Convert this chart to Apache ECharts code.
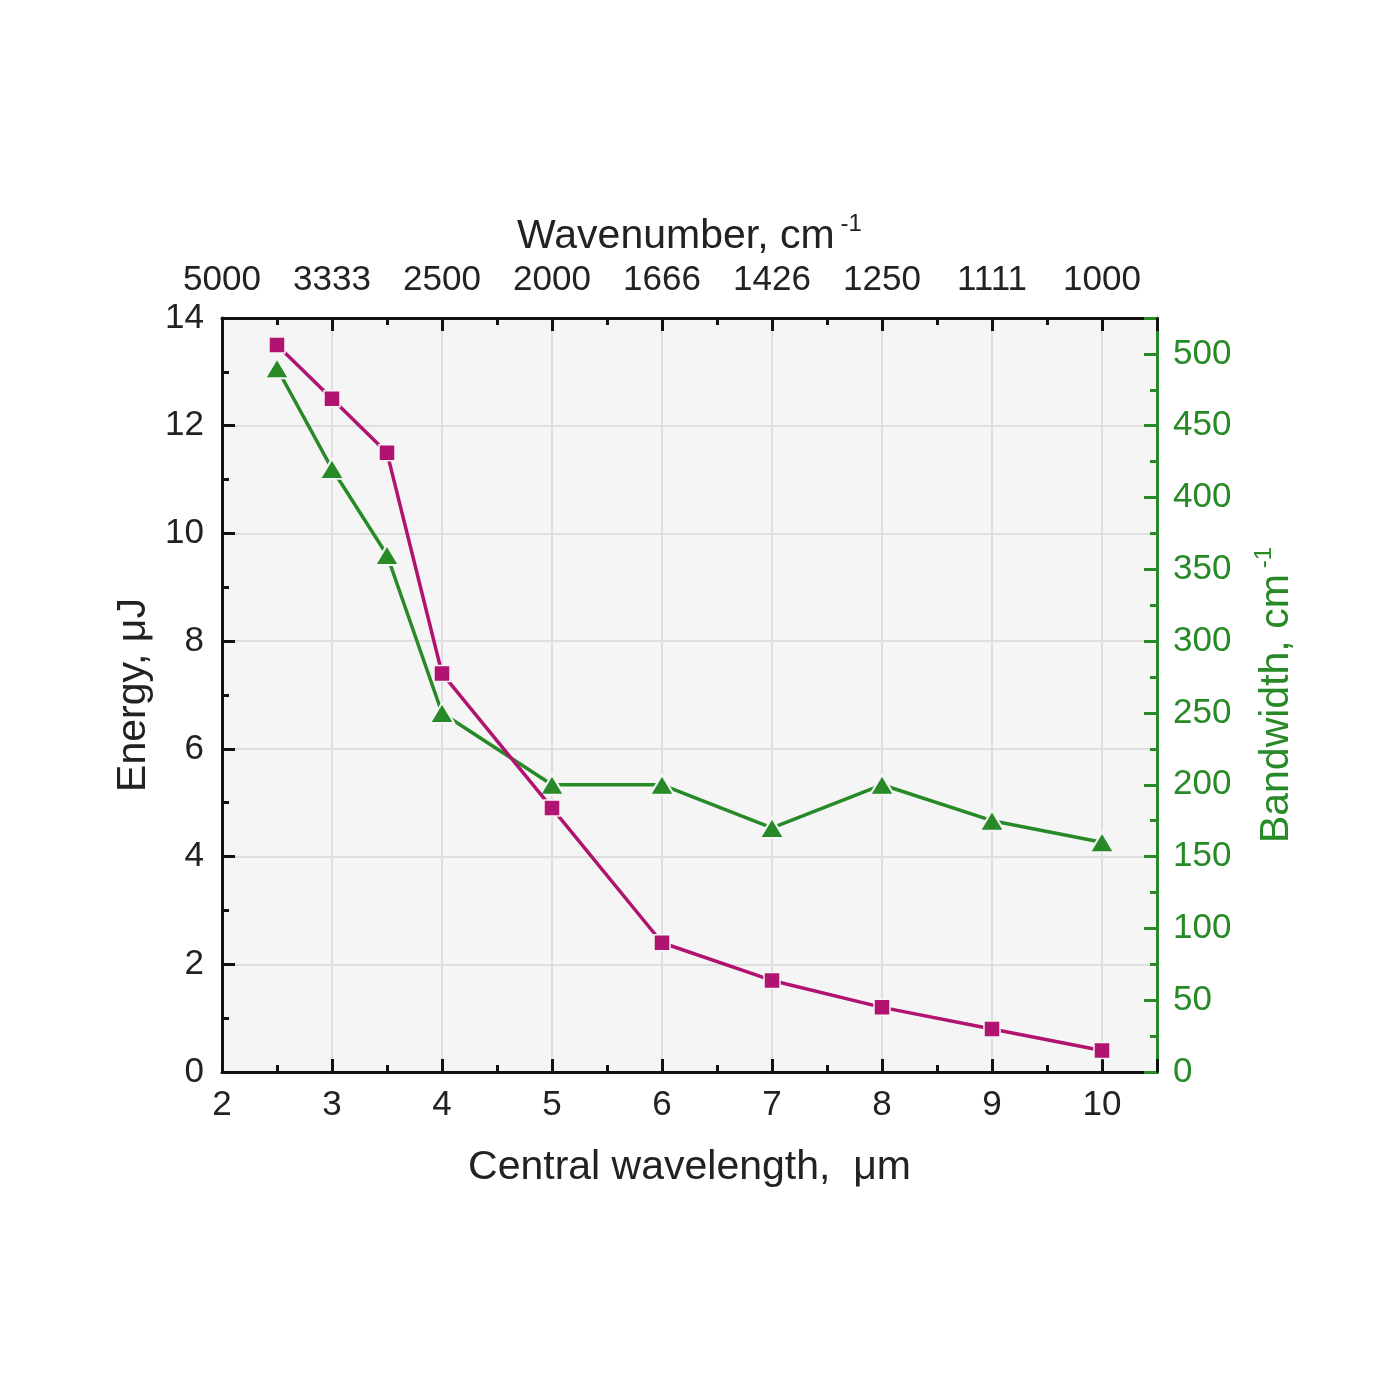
<!DOCTYPE html>
<html><head><meta charset="utf-8">
<script src="https://cdn.jsdelivr.net/npm/echarts@6/dist/echarts.min.js"></script>
<style>html,body{margin:0;padding:0;background:#fff}#c{width:1400px;height:1400px}</style>
</head><body><div id="c"></div>
<script>
const wavelength = [2.5, 3, 3.5, 4, 5, 6, 7, 8, 9, 10];
const energy = [13.5, 12.5, 11.5, 7.4, 4.9, 2.4, 1.7, 1.2, 0.8, 0.4];
const bandwidth = [490, 420, 360, 250, 200, 200, 170, 200, 175, 160];
const bottomTicks = [2, 3, 4, 5, 6, 7, 8, 9, 10];
const topTickLabels = ["5000", "3333", "2500", "2000", "1666", "1426", "1250", "1111", "1000"];

const MAG = '#B01370', GRN = '#278A27', FONT = '"Liberation Sans", Arial, sans-serif';
const TF = 35, NF = 41;
const chart = echarts.init(document.getElementById('c'));
const tickCommon = {show: true, inside: true, length: 13, lineStyle: {width: 3, color: '#111'}};
const minorCommon = {show: true, splitNumber: 2, length: 7, lineStyle: {width: 3, color: '#111'}};
chart.setOption({
  animation: false,
  grid: {left: 222, right: 243, top: 318, bottom: 328, show: true, backgroundColor: '#f5f5f5', borderWidth: 0},
  xAxis: [{
    type: 'value', position: 'bottom', min: 2, max: 10.5, interval: 1,
    name: 'Central wavelength,  μm', nameLocation: 'middle', nameGap: 75,
    nameTextStyle: {fontSize: NF, color: '#222', fontFamily: FONT},
    axisLine: {onZero: false, lineStyle: {color: '#111', width: 3}},
    axisTick: tickCommon, minorTick: minorCommon,
    axisLabel: {fontSize: TF, color: '#222', fontFamily: FONT, margin: 16,
      formatter: v => bottomTicks.includes(v) ? String(v) : ''},
    splitLine: {show: true, showMaxLine: false, showMinLine: false, lineStyle: {color: '#dedede', width: 2}}
  }, {
    type: 'value', position: 'top', min: 2, max: 10.5, interval: 1,
    name: '{a|Wavenumber, cm}{s|-1}', nameLocation: 'middle', nameGap: 56,
    nameTextStyle: {fontSize: NF, color: '#222', fontFamily: FONT,
      rich: {a: {fontSize: NF, color: '#222', fontFamily: FONT},
             s: {fontSize: 24, color: '#222', fontFamily: FONT, verticalAlign: 'top', padding: [0, 0, 26, 6]}}},
    axisLine: {onZero: false, lineStyle: {color: '#111', width: 3}},
    axisTick: tickCommon, minorTick: minorCommon,
    axisLabel: {fontSize: TF, color: '#222', fontFamily: FONT, margin: 20,
      formatter: v => { const i = bottomTicks.indexOf(v); return i >= 0 ? topTickLabels[i] : ''; }},
    splitLine: {show: false}
  }],
  yAxis: [{
    type: 'value', position: 'left', min: 0, max: 14, interval: 2,
    name: 'Energy, μJ', nameLocation: 'middle', nameGap: 66,
    nameTextStyle: {fontSize: NF, color: '#222', fontFamily: FONT},
    axisLine: {show: true, onZero: false, lineStyle: {color: '#111', width: 3}},
    axisTick: tickCommon, minorTick: minorCommon,
    axisLabel: {fontSize: TF, color: '#222', fontFamily: FONT, margin: 18},
    splitLine: {show: true, showMaxLine: false, lineStyle: {color: '#dedede', width: 2}}
  }, {
    type: 'value', position: 'right', min: 0, max: 525, interval: 50,
    name: '{a|Bandwidth, cm}{s|-1}', nameLocation: 'middle', nameGap: 95,
    nameTextStyle: {fontSize: NF, color: GRN, fontFamily: FONT,
      rich: {a: {fontSize: NF, color: GRN, fontFamily: FONT},
             s: {fontSize: 24, color: GRN, fontFamily: FONT, verticalAlign: 'top', padding: [0, 0, 26, 6]}}},
    axisLine: {show: true, onZero: false, lineStyle: {color: GRN, width: 3}},
    axisTick: {show: true, inside: true, length: 13, lineStyle: {width: 3, color: GRN}},
    minorTick: {show: true, splitNumber: 2, length: 7, lineStyle: {width: 3, color: GRN}},
    axisLabel: {fontSize: TF, color: GRN, fontFamily: FONT, margin: 16,
      formatter: v => (v % 50 === 0) ? String(v) : ''},
    splitLine: {show: false}
  }],
  series: [{
    type: 'line', xAxisIndex: 0, yAxisIndex: 1,
    data: wavelength.map((x, i) => [x, bandwidth[i]]),
    symbol: 'triangle', symbolSize: [24, 20],
    itemStyle: {color: GRN, borderColor: '#f5f5f5', borderWidth: 2},
    lineStyle: {color: GRN, width: 3.5}, z: 3
  }, {
    type: 'line', xAxisIndex: 0, yAxisIndex: 0,
    data: wavelength.map((x, i) => [x, energy[i]]),
    symbol: 'rect', symbolSize: 16,
    itemStyle: {color: MAG, borderColor: '#f5f5f5', borderWidth: 1.5},
    lineStyle: {color: MAG, width: 3.5}, z: 4
  }]
});
</script></body></html>
